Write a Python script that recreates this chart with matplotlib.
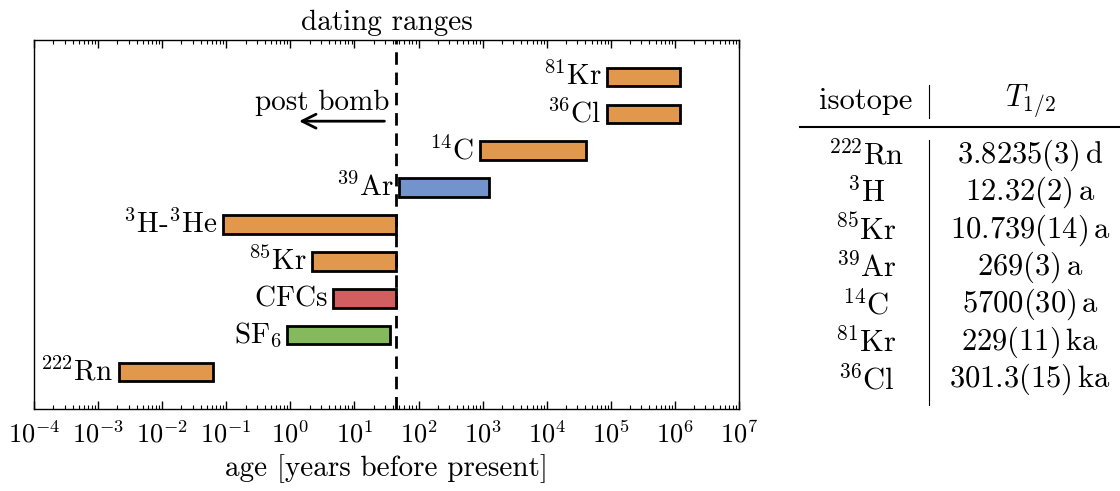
import numpy as np
import matplotlib
matplotlib.use("Agg")
import matplotlib.pyplot as plt
from matplotlib.ticker import LogLocator, NullFormatter
from matplotlib.lines import Line2D

plt.rcParams['font.family'] = 'serif'
plt.rcParams['font.serif'] = ['cmr10', 'DejaVu Serif']
plt.rcParams['mathtext.fontset'] = 'cm'
plt.rcParams['axes.formatter.use_mathtext'] = True
plt.rcParams['axes.unicode_minus'] = False

# ---- data ----
methods = [r'$^{222}\mathrm{Rn}$', r'$\mathrm{SF}_6$', r'$\mathrm{CFCs}$', r'$^{85}\mathrm{Kr}$',
           r'$^{3}\mathrm{H}$-$^{3}\mathrm{He}$', r'$^{39}\mathrm{Ar}$', r'$^{14}\mathrm{C}$',
           r'$^{36}\mathrm{Cl}$', r'$^{81}\mathrm{Kr}$']
range_min = [0.0021, 0.9, 4.6, 2.2, 0.09, 50, 900, 87000, 87000]
range_max = [0.063, 36, 45, 45, 45, 1250, 41000, 1.2e6, 1.2e6]
bar_colors = ['#E1974C', '#84BA5B', '#D35E60', '#E1974C', '#E1974C', '#7293CB', '#E1974C', '#E1974C', '#E1974C']
bomb_age = 45

table_isotopes = [r'$^{222}\mathrm{Rn}$', r'$^{3}\mathrm{H}$', r'$^{85}\mathrm{Kr}$', r'$^{39}\mathrm{Ar}$',
                  r'$^{14}\mathrm{C}$', r'$^{81}\mathrm{Kr}$', r'$^{36}\mathrm{Cl}$']
table_halflives = [r'$3.8235(3)\,\mathrm{d}$', r'$12.32(2)\,\mathrm{a}$', r'$10.739(14)\,\mathrm{a}$',
                   r'$269(3)\,\mathrm{a}$', r'$5700(30)\,\mathrm{a}$', r'$229(11)\,\mathrm{ka}$',
                   r'$301.3(15)\,\mathrm{ka}$']
table_headers = [r'isotope', r'$T_{1/2}$']

FS = 21
TFS = 22
W, H = 1120, 491
fig = plt.figure(figsize=(W / 100, H / 100), dpi=100)
ax = fig.add_axes([34 / W, 1 - 409 / H, (739 - 34) / W, (409 - 40) / H])

ypos = np.arange(len(methods))
lo = np.array(range_min)
hi = np.array(range_max)
ax.barh(ypos, hi - lo, left=lo, height=0.5, color=bar_colors, edgecolor='black', linewidth=2, zorder=3)
for y, l, lab in zip(ypos, lo, methods):
    ax.annotate(lab, xy=(l, y), xytext=(-4, 0), textcoords='offset points',
                ha='right', va='center', fontsize=FS)

ax.axvline(bomb_age, color='black', ls=(0, (4.5, 2.8)), lw=2, zorder=4)
ax.annotate('', xy=(0.372, 0.780), xytext=(0.501, 0.780), xycoords='axes fraction',
            arrowprops=dict(arrowstyle='->', lw=2, mutation_scale=25, color='black'))
ax.text(0.5035, 0.829, 'post bomb', transform=ax.transAxes, ha='right', va='center', fontsize=FS)

ax.set_xscale('log')
ax.set_xlim(1e-4, 1e7)
ax.set_ylim(-1, len(methods))
ax.set_yticks([])
ax.xaxis.set_major_locator(LogLocator(base=10, numticks=30))
ax.xaxis.set_minor_locator(LogLocator(base=10, subs=np.arange(2, 10), numticks=300))
ax.xaxis.set_minor_formatter(NullFormatter())
ax.tick_params(axis='x', which='both', direction='in', top=True, labelsize=19, pad=8)
ax.tick_params(axis='x', which='major', length=6, width=1)
ax.tick_params(axis='x', which='minor', length=3, width=0.8)
for s in ax.spines.values():
    s.set_linewidth(1)
ax.set_title('dating ranges', fontsize=FS, pad=7)
ax.set_xlabel('age [years before present]', fontsize=FS, labelpad=5)

# ---- table ----
col_x = [866 / W, 1030 / W]
fig.text(col_x[0], 1 - 101 / H, table_headers[0], ha='center', va='center', fontsize=TFS)
fig.text(col_x[1], 1 - 101 / H, table_headers[1], ha='center', va='center', fontsize=TFS)
row0, dy = 155, 37.4
for i, (iso, hl) in enumerate(zip(table_isotopes, table_halflives)):
    yy = 1 - (row0 + i * dy) / H
    fig.text(col_x[0], yy, iso, ha='center', va='center', fontsize=TFS)
    fig.text(col_x[1], yy, hl, ha='center', va='center', fontsize=TFS)
fig.add_artist(Line2D([800 / W, 1.0], [1 - 127 / H] * 2, transform=fig.transFigure, color='black', lw=1.5))
fig.add_artist(Line2D([929 / W] * 2, [1 - 85 / H, 1 - 118 / H], transform=fig.transFigure, color='black', lw=0.8))
fig.add_artist(Line2D([929 / W] * 2, [1 - 140 / H, 1 - 405 / H], transform=fig.transFigure, color='black', lw=0.8))

fig.savefig('out.png', dpi=100)
